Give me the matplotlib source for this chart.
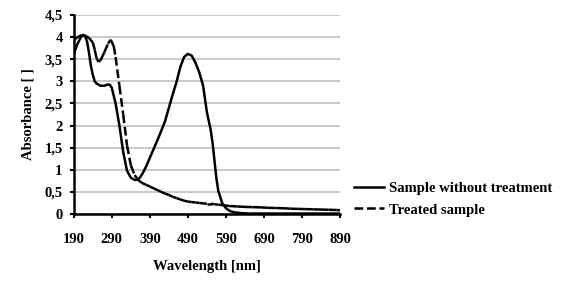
import numpy as np
import matplotlib
matplotlib.use("Agg")
from matplotlib import pyplot as plt
from matplotlib.collections import LineCollection
from matplotlib.lines import Line2D

# Sample without treatment (solid)
wl_untreated = [190, 200, 210, 215, 220, 225, 230, 235, 240, 245, 250, 260, 270, 280, 285, 290,
                300, 310, 320, 330, 340, 350, 360, 370, 380, 390, 400, 410, 420, 430, 440, 450,
                460, 470, 480, 490, 500, 510, 520, 530, 540, 550, 555, 560, 565, 570, 580, 590,
                600, 610, 630, 650, 700, 750, 800, 850, 890]
abs_untreated = [3.62, 3.85, 4.02, 4.05, 4.02, 3.9, 3.65, 3.35, 3.15, 3.0, 2.95, 2.9, 2.9, 2.93, 2.92, 2.85,
                 2.5, 2.0, 1.4, 0.98, 0.82, 0.77, 0.78, 0.9, 1.07, 1.27, 1.47, 1.67, 1.88, 2.1, 2.4, 2.7,
                 2.98, 3.32, 3.55, 3.62, 3.58, 3.42, 3.2, 2.9, 2.3, 1.9, 1.6, 1.2, 0.8, 0.52, 0.25, 0.13,
                 0.07, 0.04, 0.02, 0.01, 0.01, 0.01, 0.01, 0.01, 0.01]

# Treated sample (dashed)
wl_treated = [190, 200, 210, 220, 230, 240, 245, 250, 255, 260, 270, 280, 287, 295, 300,
              310, 320, 330, 340, 350, 360, 370, 380, 390, 400,
              410, 420, 430, 440, 450, 460, 470, 480, 490, 500, 510, 520, 530, 540, 550, 560,
              570, 580, 590, 600, 620, 640, 660, 680, 700, 720, 740, 760, 780, 800, 820, 840,
              860, 880, 890]
abs_treated = [3.93, 4.0, 4.04, 4.03, 3.98, 3.88, 3.72, 3.52, 3.44, 3.47, 3.65, 3.85, 3.94, 3.8, 3.55,
               2.9, 2.25, 1.55, 1.1, 0.88, 0.76, 0.7, 0.66, 0.62, 0.58,
               0.54, 0.5, 0.46, 0.43, 0.39, 0.36, 0.33, 0.3, 0.28, 0.27, 0.26, 0.25, 0.24, 0.23, 0.23, 0.22,
               0.21, 0.2, 0.19, 0.18, 0.17, 0.16, 0.155, 0.15, 0.14, 0.135, 0.13, 0.12, 0.115, 0.11, 0.105, 0.1,
               0.095, 0.09, 0.085]

x_ticks = [190, 290, 390, 490, 590, 690, 790, 890]
y_ticks = [0, 0.5, 1, 1.5, 2, 2.5, 3, 3.5, 4, 4.5]
y_ticklabels = ["0", "0,5", "1", "1,5", "2", "2,5", "3", "3,5", "4", "4,5"]
labels = ["Sample without treatment", "Treated sample"]

plt.rcParams["font.family"] = ["Liberation Serif", "DejaVu Serif"]
plt.rcParams["font.weight"] = "bold"

fig = plt.figure(figsize=(5.63, 2.88), dpi=100)
ax = fig.add_axes([0.131, 0.257, 0.473, 0.691])

ax.plot(wl_untreated, abs_untreated, color="black", lw=1.8, solid_joinstyle="round")

# Excel-style dashes: pattern restarts on each segment
dash = (0, (3.5, 1.5))
pts = np.column_stack([wl_treated, abs_treated])
segs = np.stack([pts[:-1], pts[1:]], axis=1)
lc = LineCollection(segs, colors="black", linewidths=1.8, linestyles=dash, capstyle="butt")
ax.add_collection(lc)

ax.set_xlim(190, 890)
ax.set_ylim(0, 4.5)
ax.set_xticks(x_ticks)
ax.set_yticks(y_ticks)
ax.set_yticklabels(y_ticklabels)
ax.tick_params(axis="both", labelsize=10.5, width=1.5, length=3, direction="out")
ax.tick_params(axis="x", pad=11)
ax.tick_params(axis="y", pad=5)
ax.yaxis.grid(True, color="#c0c0c0", lw=1.2)
ax.set_axisbelow(True)
for s in ["top", "right"]:
    ax.spines[s].set_visible(False)
for s in ["left", "bottom"]:
    ax.spines[s].set_linewidth(1.8)

ax.set_xlabel("Wavelength [nm]", fontsize=10.5, fontweight="bold", labelpad=10)
ax.set_ylabel("Absorbance [ ]", fontsize=10.5, fontweight="bold", labelpad=7)

handles = [Line2D([], [], color="black", lw=1.8),
           Line2D([], [], color="black", lw=1.8, linestyle=dash)]
fig.legend(handles, labels, loc="center left", bbox_to_anchor=(0.628, 0.309), frameon=False,
           fontsize=10.5, handlelength=2.06, handletextpad=0.35, labelspacing=0.6,
           borderpad=0, borderaxespad=0)

fig.savefig("out.png", dpi=100)
